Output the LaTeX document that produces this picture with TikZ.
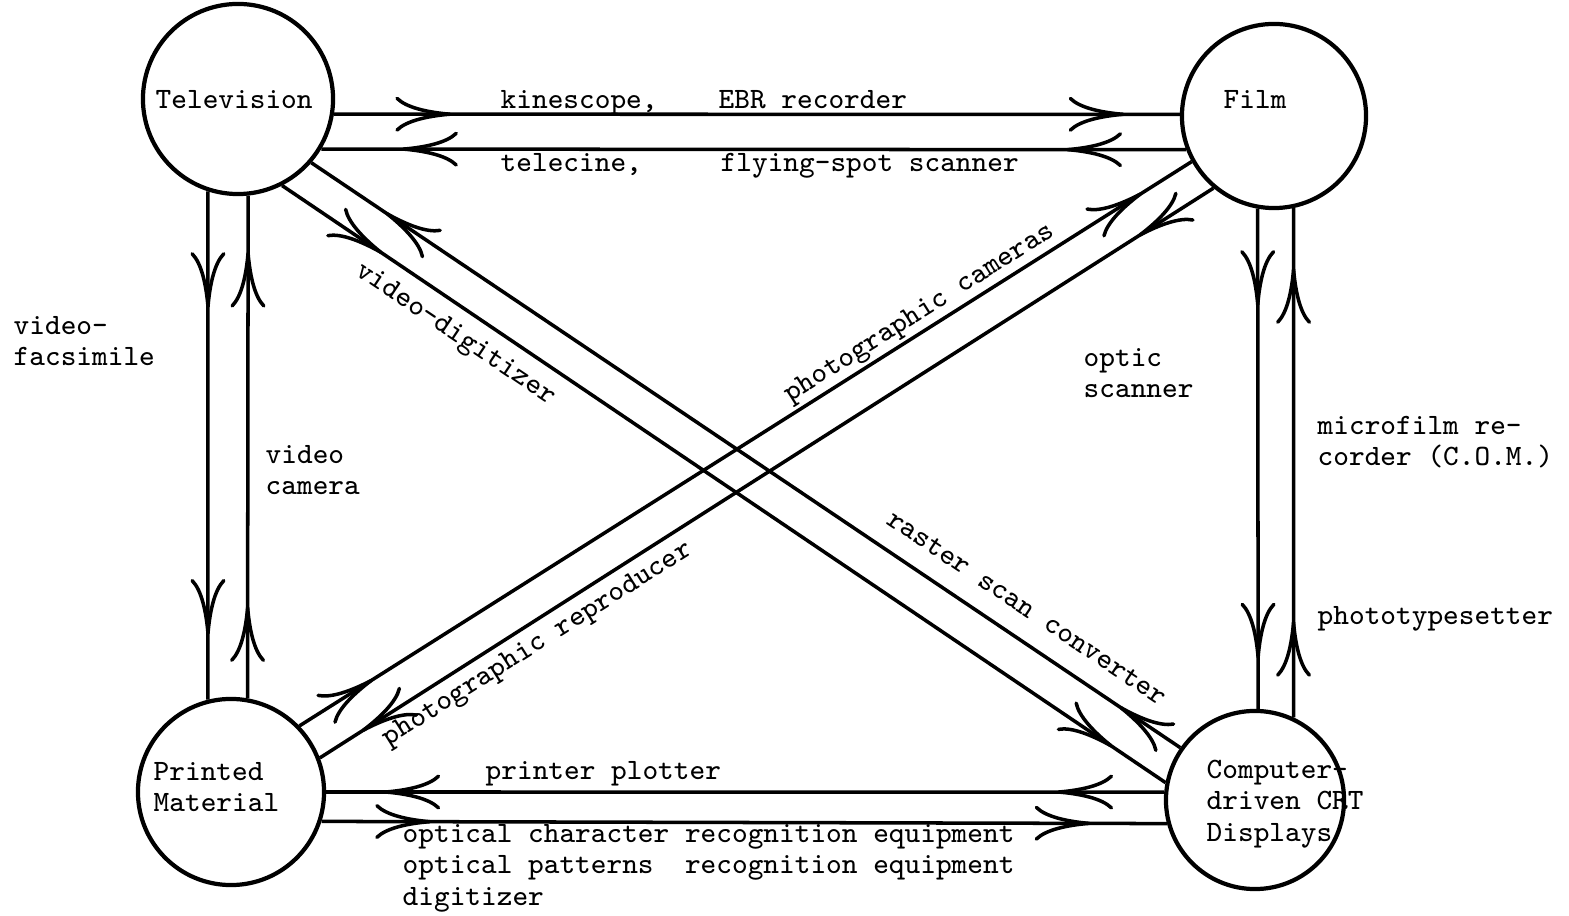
\documentclass[tikz,border=0pt]{standalone}
\usepackage{fontspec}
\usetikzlibrary{arrows.meta,decorations.markings}
\tikzset{
  vtip/.tip={Computer Modern Rightarrow[length=16pt,width=10pt]},
  station/.style={circle,draw,line width=1.2pt,minimum size=#1,inner sep=0pt},
  link/.style 2 args={line width=1pt,postaction={decorate},
    decoration={markings,
      mark=at position #1 with {\arrow{vtip}},
      mark=at position #2 with {\arrow{vtip}}}},
  lbl/.style={font=\fontsize{8.4}{9}\selectfont\ttfamily,inner sep=0pt,align=left},
}
\begin{document}
\begin{tikzpicture}[x=0.01cm,y=-0.01cm]
\useasboundingbox (0,0) rectangle (1569,916);
% the four media
\node[station=1.90cm] (tv) at (238,99) {};
\node[station=1.84cm] (film) at (1274,116) {};
\node[station=1.86cm] (pm) at (231,792) {};
\node[station=1.78cm] (crt) at (1255,800) {};
\node[lbl,anchor=base west] (tvname) at (155,109) {Television};
\node[lbl,anchor=base west] (filmname) at (1223,109) {Film};
\node[lbl,anchor=west] (pmname) at (153,787) {Printed\\Material};
\node[lbl,anchor=west] (crtname) at (1206,804) {Computer-\\driven CRT\\Displays};
% top pair
\draw[link={0.139}{0.935}] (tv.-9.7) -- (film.179.4);
\draw[link={0.139}{0.907}] (film.-159.6) -- (tv.-31);
\node[lbl,anchor=base west] (kine) at (500,109) {kinescope,};
\node[lbl,anchor=base west] (ebr) at (718,109) {EBR recorder};
\node[lbl,anchor=base west] (tele) at (500,172) {telecine,};
\node[lbl,anchor=base west] (fss) at (720,172) {flying-spot scanner};
% left pair
\draw[link={0.23}{0.873}] (tv.-108.4) -- (pm.104.3);
\draw[link={0.184}{0.889}] (pm.80.1) -- (tv.-84.6);
\node[lbl,anchor=west] (vfax) at (13,341) {video-\\facsimile};
\node[lbl,anchor=west] (vcam) at (265,470) {video\\camera};
% right pair
\draw[link={0.195}{0.90}] (film.-100) -- (crt.88);
\draw[link={0.19}{0.883}] (crt.65.5) -- (film.-78.1);
\node[lbl,anchor=west] (optic) at (1083,373) {optic\\scanner};
\node[lbl,anchor=west] (com) at (1317,442) {microfilm re-\\corder (C.O.M.)};
\node[lbl,anchor=base west] (photot) at (1317,625) {phototypesetter};
% bottom pair
\draw[link={0.128}{0.931}] (crt.175.5) -- (pm.0);
\draw[link={0.130}{0.910}] (pm.-18.8) -- (crt.-165.9);
\node[lbl,anchor=base west] (plot) at (485,780) {printer plotter};
\node[lbl,anchor=west] (ocr) at (402,868) {optical character recognition equipment\\optical patterns\ \ recognition equipment\\digitizer};
% diagonals
\draw[link={0.113}{0.94}] (tv.-63.7) -- (crt.169.1);
\draw[link={0.07}{0.914}] (crt.145.6) -- (tv.-41.7);
\draw[link={0.084}{0.953}] (film.-130) -- (pm.21.9);
\draw[link={0.082}{0.944}] (pm.44.6) -- (film.-151.3);
\node[lbl,rotate=-33.8] (vdig) at (455,335) {video-digitizer};
\node[lbl,rotate=-33.8] (raster) at (1027,608) {raster scan converter};
\node[lbl,rotate=32.3] (pcam) at (920,314) {photographic cameras};
\node[lbl,rotate=32.3] (prep) at (538,645) {photographic reproducer};
\end{tikzpicture}
\end{document}
